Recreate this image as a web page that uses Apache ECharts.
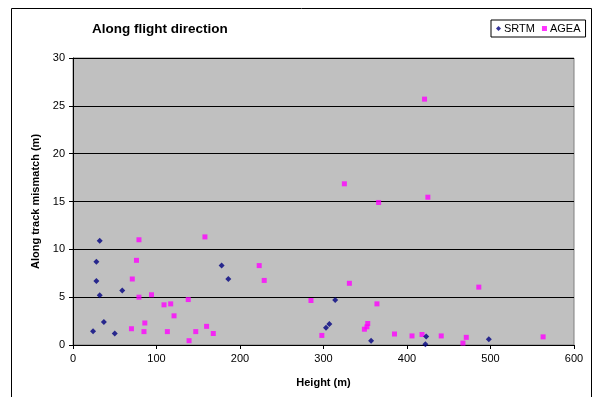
<!DOCTYPE html>
<html>
<head>
<meta charset="utf-8">
<script src="https://cdn.jsdelivr.net/npm/echarts@6/dist/echarts.min.js"></script>
<style>
  html, body { margin: 0; padding: 0; background: #fff; }
  #chart { width: 596px; height: 397px; }
</style>
</head>
<body>
<div id="chart"></div>
<script>
// values
const srtmHeight = [32, 28, 28, 32, 59, 37, 24, 50, 178, 186, 314, 307, 303, 357, 423, 422, 498]
const srtmMismatch = [10.9, 8.7, 6.7, 5.2, 5.7, 2.4, 1.45, 1.2, 8.3, 6.9, 4.7, 2.2, 1.8, 0.45, 0.9, 0.07, 0.6]

const ageaHeight = [79, 158, 76, 71, 79, 94, 109, 117, 138, 121, 86, 70, 85, 113, 160, 147, 168, 139,
  325, 366, 223, 229, 331, 285, 364, 353, 352, 349, 298, 385, 406, 421, 425, 486, 418, 441, 471, 467, 563]
const ageaMismatch = [11.0, 11.3, 8.85, 6.9, 5.0, 5.25, 4.2, 4.3, 4.75, 3.05, 2.3, 1.7, 1.4, 1.4, 1.95, 1.4, 1.2, 0.45,
  16.85, 14.9, 8.3, 6.75, 6.45, 4.65, 4.3, 2.25, 1.9, 1.65, 1.0, 1.15, 0.95, 25.7, 15.45, 6.05, 1.1, 0.95, 0.8, 0.2, 0.85]

const xTicks = [0, 100, 200, 300, 400, 500, 600]
const yTicks = [0, 5, 10, 15, 20, 25, 30]

const zip = (xs, ys) => xs.map((x, i) => [x, ys[i]])

const chart = echarts.init(document.getElementById('chart'))

const font = 'Arial, "Liberation Sans", sans-serif'

const option = {
  backgroundColor: '#ffffff',
  animation: false,
  textStyle: { fontFamily: font },
  title: {
    text: 'Along flight direction',
    left: 92,
    top: 22,
    padding: 0,
    textStyle: { fontSize: 13.5, fontWeight: 'bold', color: '#000', fontFamily: font }
  },
  legend: {
    data: [
      { name: 'SRTM', icon: 'diamond' },
      { name: 'AGEA', icon: 'rect' }
    ],
    left: 491,
    top: 20,
    itemWidth: 5,
    itemHeight: 5,
    itemGap: 7,
    padding: [3, 5, 3, 5],
    borderColor: '#000',
    borderWidth: 1,
    textStyle: { fontSize: 11, color: '#000', fontFamily: font, padding: [0, 0, 0, -2] }
  },
  graphic: [
    {
      type: 'rect',
      shape: { x: 11.5, y: 8.5, width: 580, height: 400 },
      style: { fill: 'none', stroke: '#000', lineWidth: 1 },
      silent: true,
      z: -1
    }
  ],
  grid: {
    left: 73,
    right: 22,
    top: 58,
    bottom: 52,
    show: true,
    backgroundColor: '#c0c0c0',
    borderColor: '#808080',
    borderWidth: 1
  },
  xAxis: {
    type: 'value',
    min: xTicks[0],
    max: xTicks[xTicks.length - 1],
    interval: 100,
    name: 'Height (m)',
    nameLocation: 'middle',
    nameGap: 32,
    nameTextStyle: { fontSize: 11, fontWeight: 'bold', color: '#000', fontFamily: font },
    axisLine: { show: true, lineStyle: { color: '#000', width: 1 } },
    axisTick: { show: true, inside: false, length: 4, lineStyle: { color: '#000' } },
    axisLabel: { fontSize: 11, color: '#000', margin: 8, fontFamily: font },
    splitLine: { show: false }
  },
  yAxis: {
    type: 'value',
    min: yTicks[0],
    max: yTicks[yTicks.length - 1],
    interval: 5,
    name: 'Along track mismatch (m)',
    nameLocation: 'middle',
    nameGap: 32,
    nameTextStyle: { fontSize: 11, fontWeight: 'bold', color: '#000', fontFamily: font },
    axisLine: { show: true, lineStyle: { color: '#000', width: 1 } },
    axisTick: { show: true, inside: false, length: 4, lineStyle: { color: '#000' } },
    axisLabel: { fontSize: 11, color: '#000', margin: 8, fontFamily: font },
    splitLine: { show: true, lineStyle: { color: '#000', width: 1 } }
  },
  series: [
    {
      name: 'SRTM',
      type: 'scatter',
      symbol: 'diamond',
      symbolSize: 6,
      itemStyle: { color: '#000080' },
      data: zip(srtmHeight, srtmMismatch),
      z: 3
    },
    {
      name: 'AGEA',
      type: 'scatter',
      symbol: 'rect',
      symbolSize: 5,
      itemStyle: { color: '#ff00ff' },
      data: zip(ageaHeight, ageaMismatch),
      z: 2
    }
  ]
}

chart.setOption(option)
</script>
</body>
</html>
